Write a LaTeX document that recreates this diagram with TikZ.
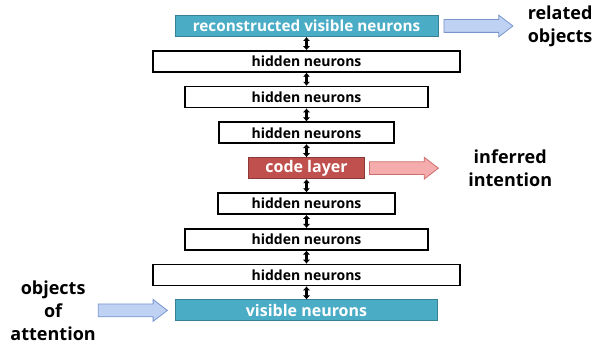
\documentclass[tikz,border=0pt]{standalone}
\usepackage{fontspec}
\setmainfont{Open Sans}
\usepackage{tikz}
\usetikzlibrary{arrows,arrows.meta,shapes,positioning}
\usepackage{xcolor}
\definecolor{nnaqua}{RGB}{75,172,198}
\definecolor{nnaquadark}{RGB}{56,128,148}
\definecolor{nnred}{RGB}{192,80,77}
\definecolor{nnreddark}{RGB}{140,56,54}
\definecolor{arrblue}{RGB}{192,210,243}
\definecolor{arrbluedark}{RGB}{120,150,205}
\definecolor{arrred}{RGB}{245,172,172}
\definecolor{arrreddark}{RGB}{205,110,110}
\tikzstyle{link} = [line width=2.2pt,{Latex[length=4pt,width=7.5pt]}-{Latex[length=4pt,width=7.5pt]}]
\tikzstyle{hidnode} = [rectangle, draw=black, fill=white, line width=1.6pt, minimum height=21pt,
    inner sep=0pt, font=\bfseries\fontsize{14}{16}\selectfont]
\tikzstyle{visnode} = [rectangle, draw=nnaquadark, fill=nnaqua, line width=1pt, minimum height=21pt,
    inner sep=0pt, text=white, font=\bfseries\fontsize{16}{18}\selectfont]
\tikzstyle{codenode} = [visnode, draw=nnreddark, fill=nnred]
\tikzstyle{bigarrow} = [single arrow, draw=arrbluedark, fill=arrblue, line width=0.8pt, inner sep=6pt,
    minimum height=69pt, single arrow head extend=4.5pt, single arrow tip angle=75]
\tikzstyle{sidetext} = [align=center, inner sep=0pt, font=\bfseries\fontsize{18}{23}\selectfont]

\begin{document}
\begin{tikzpicture}[node distance=13.1pt]
\useasboundingbox (0,0) rectangle (608pt,-347pt);
% the stack of layers
\node[visnode, minimum width=263pt, font=\bfseries\fontsize{15.3}{18}\selectfont] (recon) at (306.5pt,-26pt) {reconstructed visible neurons};
\node[hidnode, minimum width=307pt, below=of recon] (hid1) {hidden neurons};
\node[hidnode, minimum width=243pt, below=of hid1] (hid2) {hidden neurons};
\node[hidnode, minimum width=175pt, below=of hid2] (hid3) {hidden neurons};
\node[codenode, minimum width=116pt, below=of hid3] (code) {code layer};
\node[hidnode, minimum width=177pt, below=of code] (hid4) {hidden neurons};
\node[hidnode, minimum width=243pt, below=of hid4] (hid5) {hidden neurons};
\node[hidnode, minimum width=307pt, below=of hid5] (hid6) {hidden neurons};
\node[visnode, minimum width=262pt, below=of hid6] (vis) {visible neurons};

\draw[link] (recon) -- (hid1);
\draw[link] (hid1) -- (hid2);
\draw[link] (hid2) -- (hid3);
\draw[link] (hid3) -- (code);
\draw[link] (code) -- (hid4);
\draw[link] (hid4) -- (hid5);
\draw[link] (hid5) -- (hid6);
\draw[link] (hid6) -- (vis);

% in and out
\node[bigarrow, right=5pt of recon] (outarr) {};
\node[sidetext, right=14pt of outarr.tip] (related) {related\\objects};
\node[bigarrow, draw=arrreddark, fill=arrred, right=4pt of code] (codearr) {};
\node[sidetext, right=29pt of codearr.tip] (intent) {inferred\\intention};
\node[bigarrow, left=7pt of vis] (inarr) {};
\node[sidetext, left=2pt of inarr.tail] (attn) {objects\\of\\attention};
\end{tikzpicture}
\end{document}
